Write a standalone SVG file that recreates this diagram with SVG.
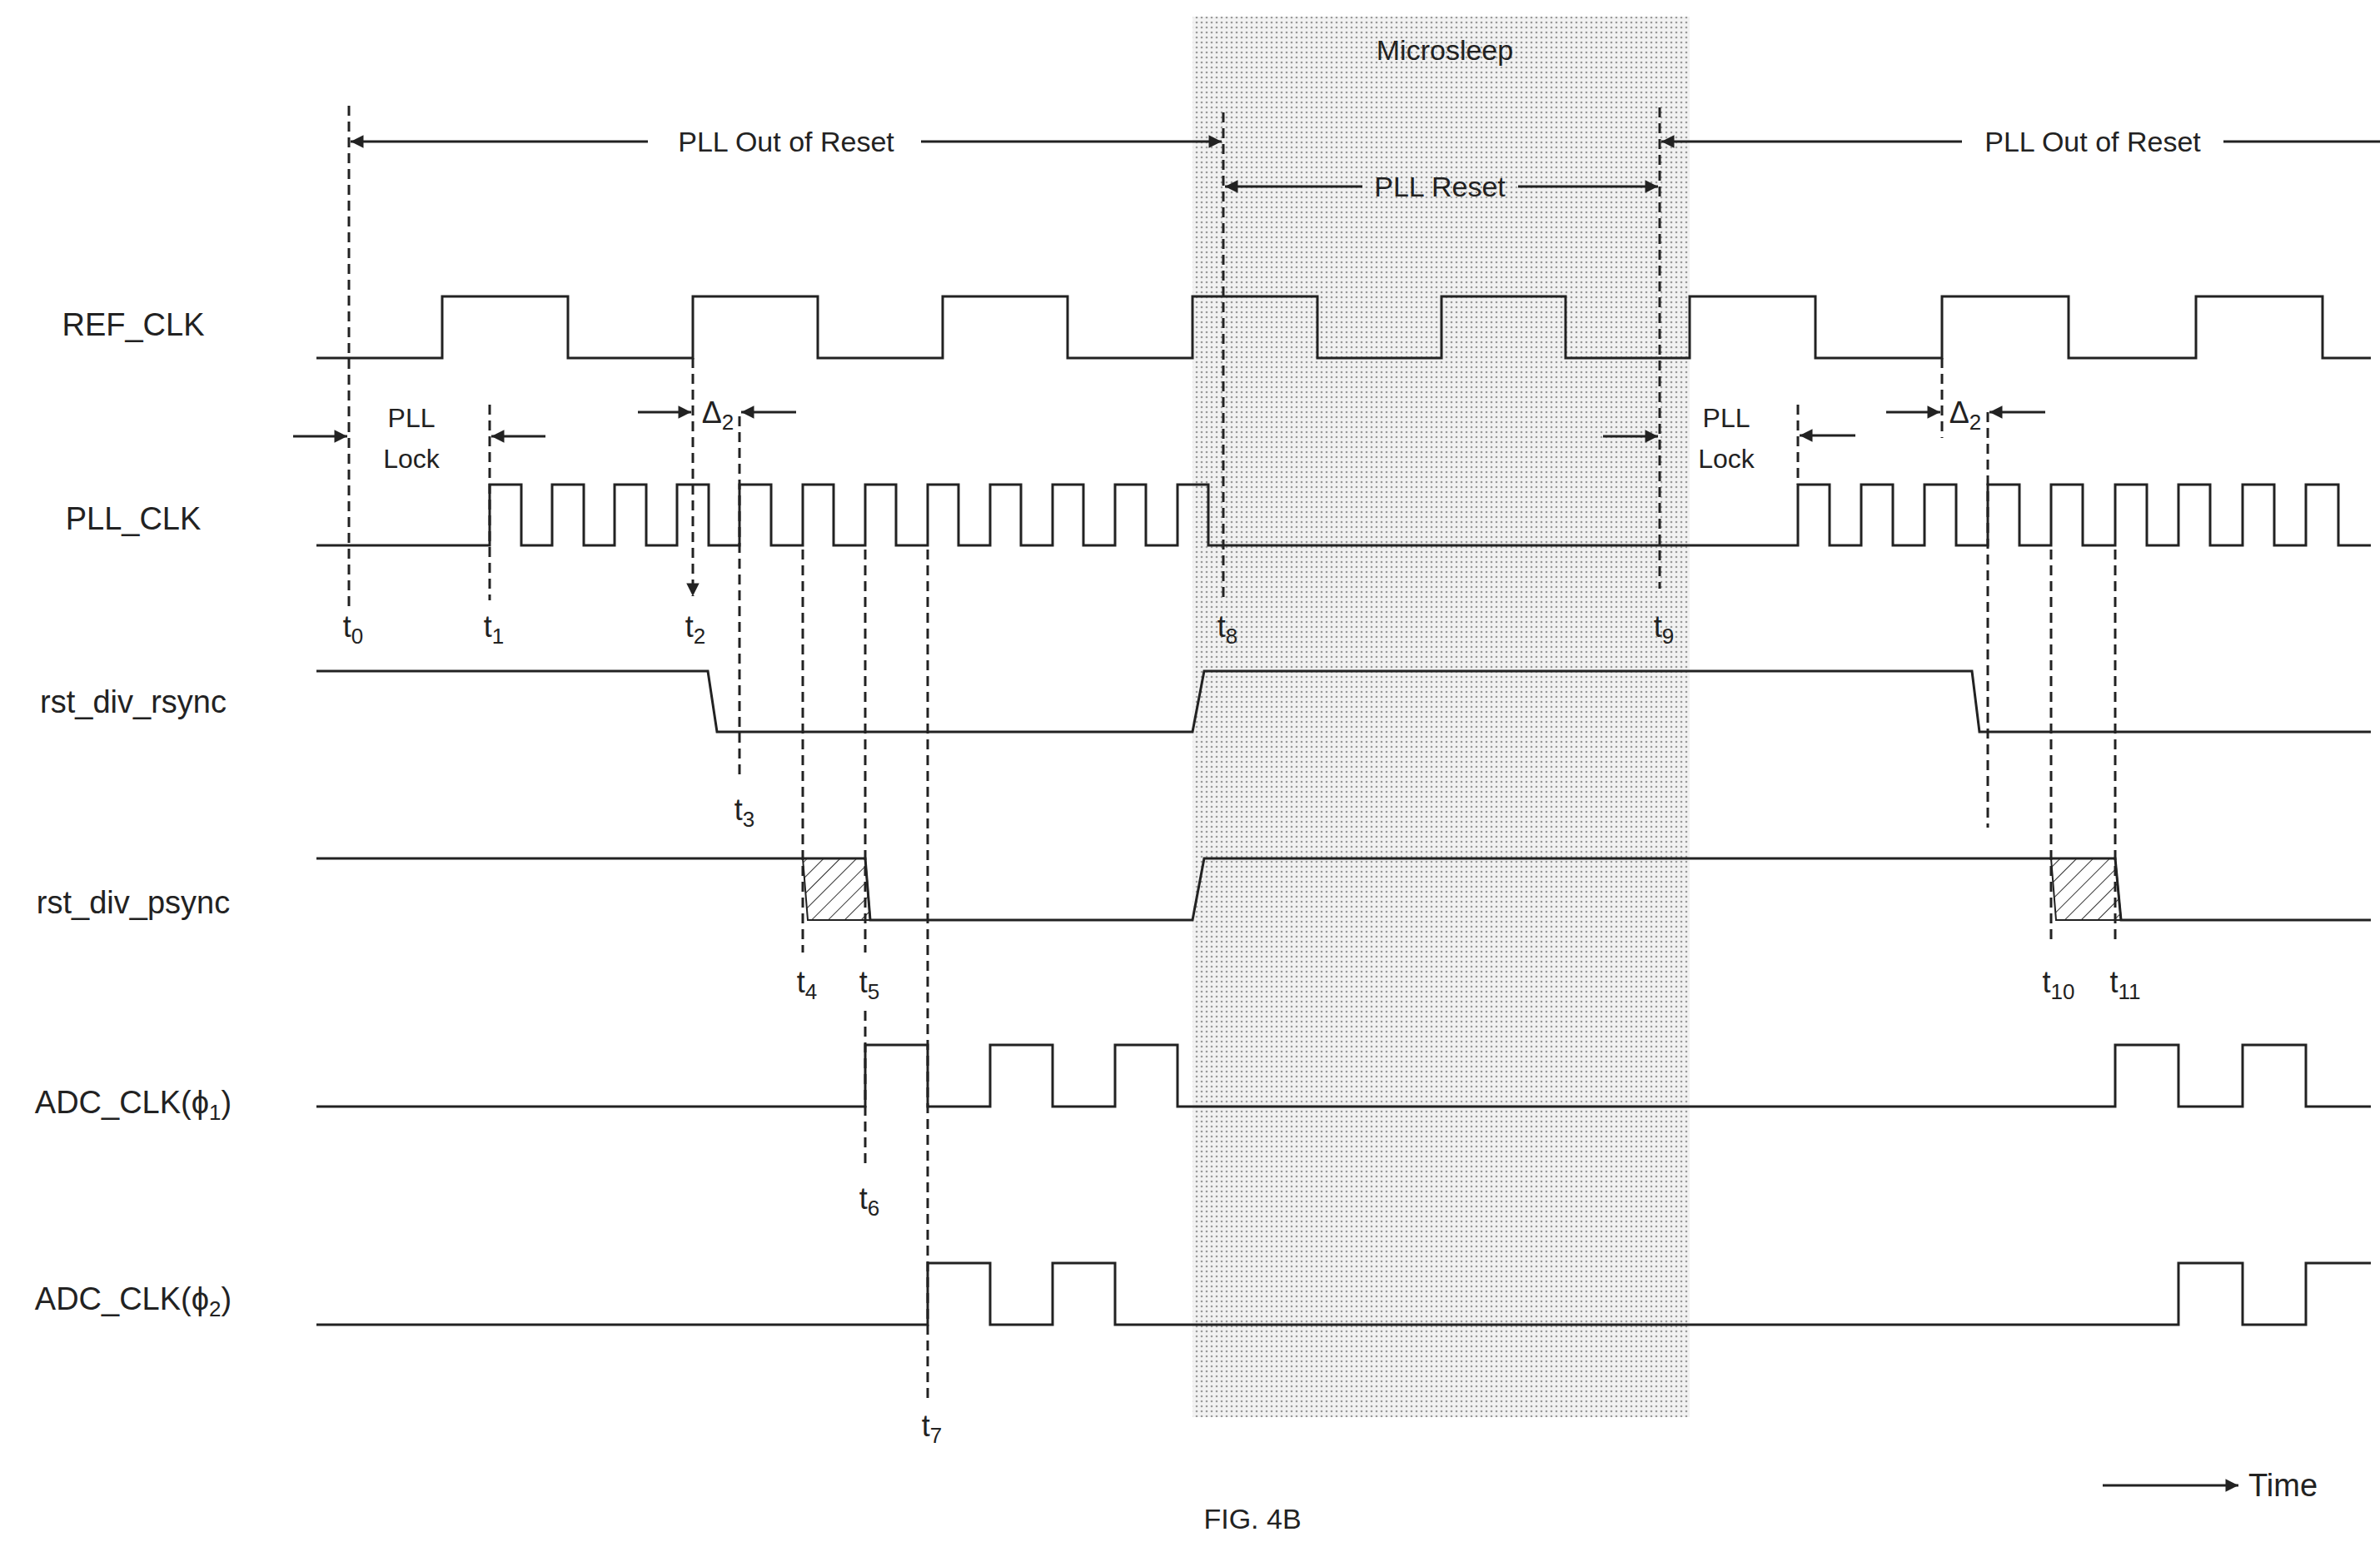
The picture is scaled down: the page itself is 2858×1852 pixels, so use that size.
<svg xmlns="http://www.w3.org/2000/svg" width="2858" height="1852" viewBox="0 0 2858 1852">
<style>
text{font-family:"Liberation Sans",Arial,sans-serif;fill:#222}
.lbl{font-size:38px;text-anchor:middle}
.t{font-size:36px;text-anchor:middle}
.sig{fill:none;stroke:#222;stroke-width:3}
.dash{fill:none;stroke:#222;stroke-width:3;stroke-dasharray:12 7}
.arr{fill:none;stroke:#222;stroke-width:3}
</style>
<defs>
<pattern id="dots" width="6" height="6" patternUnits="userSpaceOnUse"><rect width="6" height="6" fill="#f2f2f2"/><circle cx="3" cy="3" r="1.3" fill="#9a9a9a"/></pattern>
<pattern id="hatch" width="14" height="14" patternUnits="userSpaceOnUse" patternTransform="rotate(45)"><rect width="14" height="14" fill="#fff"/><line x1="0" y1="0" x2="0" y2="14" stroke="#333" stroke-width="2"/></pattern>
<marker id="ah" viewBox="0 0 10 10" refX="10" refY="5" markerWidth="7" markerHeight="7" orient="auto-start-reverse" markerUnits="userSpaceOnUse" style="overflow:visible"><path d="M0,0 L10,5 L0,10 z" fill="#222" transform="scale(2.2) translate(-5.5,-2.7)"/></marker>
</defs>
<rect width="2858" height="1852" fill="#fff"/>
<g id="microsleep"><rect x="1432" y="20" width="597" height="1682" fill="url(#dots)"/><text x="1735" y="72" class="lbl" style="font-size:34px">Microsleep</text></g>
<g id="labels">
<text x="160" y="403" class="lbl">REF_CLK</text>
<text x="160" y="636" class="lbl">PLL_CLK</text>
<text x="160" y="856" class="lbl">rst_div_rsync</text>
<text x="160" y="1097" class="lbl">rst_div_psync</text>
<text x="160" y="1337" class="lbl">ADC_CLK(ϕ<tspan font-size="26" dy="8">1</tspan><tspan dy="-8">)</tspan></text>
<text x="160" y="1573" class="lbl">ADC_CLK(ϕ<tspan font-size="26" dy="8">2</tspan><tspan dy="-8">)</tspan></text>
</g>
<g id="signals">
<path class="sig" d="M380 430 H531 V356 H682 V430 H832 V356 H982 V430 H1132 V356 H1282 V430 H1432 V356 H1582 V430 H1731 V356 H1880 V430 H2029 V356 H2180 V430 H2332 V356 H2484 V430 H2637 V356 H2789 V430 H2847"/>
<path class="sig" d="M380 655 H588 V582 H626 V655 H663 V582 H701 V655 H738 V582 H776 V655 H813 V582 H851 V655 H888 V582 H926 V655 H964 V582 H1001 V655 H1039 V582 H1076 V655 H1114 V582 H1151 V655 H1189 V582 H1226 V655 H1264 V582 H1301 V655 H1339 V582 H1376 V655 H1414 V582 H1451 V655 H2159 V582 H2197 V655 H2235 V582 H2273 V655 H2311 V582 H2349 V655 H2387 V582 H2425 V655 H2463 V582 H2501 V655 H2540 V582 H2578 V655 H2616 V582 H2654 V655 H2693 V582 H2731 V655 H2769 V582 H2808 V655 H2847"/>
<path class="sig" d="M380 806 H850 L861 879 H1432 L1446 806 H2368 L2377 879 H2847"/>
<polygon points="964,1031 1039,1031 1045,1105 970,1105" fill="url(#hatch)" stroke="#222" stroke-width="2"/>
<polygon points="2463,1031 2540,1031 2547,1105 2469,1105" fill="url(#hatch)" stroke="#222" stroke-width="2"/>
<path class="sig" d="M380 1031 H1039 L1045 1105 H1432 L1446 1031 H2540 L2547 1105 H2847"/>
<path class="sig" d="M380 1329 H1039 V1255 H1114 V1329 H1189 V1255 H1264 V1329 H1339 V1255 H1414 V1329 H2540 V1255 H2616 V1329 H2693 V1255 H2769 V1329 H2847"/>
<path class="sig" d="M380 1591 H1114 V1517 H1189 V1591 H1264 V1517 H1339 V1591 H2616 V1517 H2693 V1591 H2769 V1517 H2847"/>
</g>
<g id="connectors">
<path class="dash" d="M419 127 V730 M588 486 V721 M888 500 V933 M964 660 V1144 M1039 660 V1144 M1039 1214 V1399 M1114 660 V1686 M1469 135 V718 M1993 129 V707 M2159 486 V582 M2332 430 V526 M2387 495 V994 M2463 660 V1128 M2540 660 V1128"/>
<path class="dash" d="M832 430 V716" marker-end="url(#ah)"/>
<path class="arr" d="M778 170 H421" marker-end="url(#ah)"/>
<path class="arr" d="M1106 170 H1467" marker-end="url(#ah)"/>
<path class="arr" d="M2356 170 H1995" marker-end="url(#ah)"/>
<path class="arr" d="M2670 170 H2858"/>
<path class="arr" d="M1636 224 H1471" marker-end="url(#ah)"/>
<path class="arr" d="M1823 224 H1991" marker-end="url(#ah)"/>
<path class="arr" d="M352 524 H417" marker-end="url(#ah)"/>
<path class="arr" d="M655 524 H590" marker-end="url(#ah)"/>
<path class="arr" d="M766 495 H830" marker-end="url(#ah)"/>
<path class="arr" d="M956 495 H890" marker-end="url(#ah)"/>
<path class="arr" d="M1925 524 H1991" marker-end="url(#ah)"/>
<path class="arr" d="M2228 523 H2161" marker-end="url(#ah)"/>
<path class="arr" d="M2265 495 H2330" marker-end="url(#ah)"/>
<path class="arr" d="M2456 495 H2389" marker-end="url(#ah)"/>
<path class="arr" d="M2525 1784 H2688" marker-end="url(#ah)"/>
</g>
<g id="annotations">
<text x="944" y="182" class="lbl" style="font-size:34px">PLL Out of Reset</text>
<text x="2513" y="182" class="lbl" style="font-size:34px">PLL Out of Reset</text>
<text x="1729" y="236" class="lbl" style="font-size:34px">PLL Reset</text>
<text x="494" y="513" class="t" style="font-size:32px">PLL</text>
<text x="494" y="562" class="t" style="font-size:32px">Lock</text>
<text x="2073" y="513" class="t" style="font-size:32px">PLL</text>
<text x="2073" y="562" class="t" style="font-size:32px">Lock</text>
<text x="862" y="508" class="t">Δ<tspan font-size="26" dy="8">2</tspan></text>
<text x="2360" y="508" class="t">Δ<tspan font-size="26" dy="8">2</tspan></text>
<text x="424" y="765" class="t">t<tspan font-size="26" dy="8">0</tspan></text>
<text x="593" y="765" class="t">t<tspan font-size="26" dy="8">1</tspan></text>
<text x="835" y="765" class="t">t<tspan font-size="26" dy="8">2</tspan></text>
<text x="894" y="985" class="t">t<tspan font-size="26" dy="8">3</tspan></text>
<text x="969" y="1192" class="t">t<tspan font-size="26" dy="8">4</tspan></text>
<text x="1044" y="1192" class="t">t<tspan font-size="26" dy="8">5</tspan></text>
<text x="1044" y="1452" class="t">t<tspan font-size="26" dy="8">6</tspan></text>
<text x="1119" y="1725" class="t">t<tspan font-size="26" dy="8">7</tspan></text>
<text x="1474" y="765" class="t">t<tspan font-size="26" dy="8">8</tspan></text>
<text x="1998" y="765" class="t">t<tspan font-size="26" dy="8">9</tspan></text>
<text x="2472" y="1192" class="t">t<tspan font-size="26" dy="8">10</tspan></text>
<text x="2552" y="1192" class="t">t<tspan font-size="26" dy="8">11</tspan></text>
<text x="2700" y="1797" style="font-size:38px">Time</text>
<text x="1504" y="1836" class="lbl" style="font-size:34px">FIG. 4B</text>
</g>
</svg>
